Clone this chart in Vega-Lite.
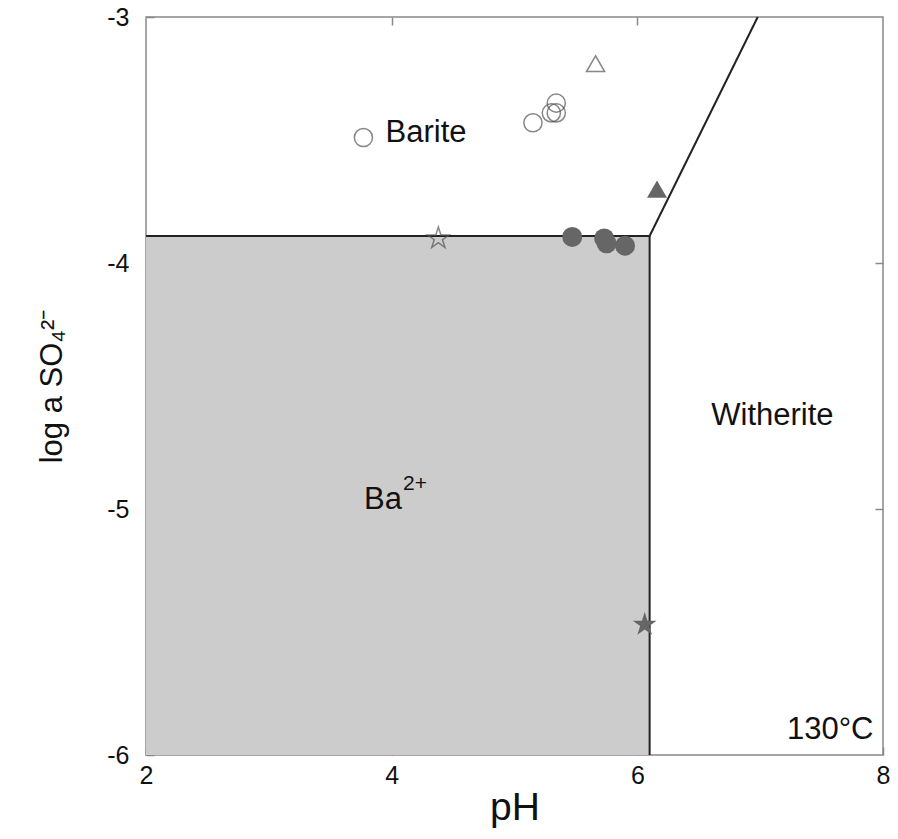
{
  "$schema": "https://vega.github.io/schema/vega-lite/v6.json",
  "width": 737,
  "height": 738,
  "autosize": {"type": "none"},
  "padding": {"left": 146, "top": 17, "right": 15, "bottom": 84},
  "background": "white",
  "config": {
    "view": {"stroke": "#888888", "strokeWidth": 1.5},
    "font": "Liberation Sans",
    "axis": {
      "grid": false,
      "domain": false,
      "ticks": true,
      "tickSize": -8,
      "tickWidth": 1.5,
      "tickColor": "#888888",
      "labelFont": "Liberation Sans",
      "labelFontSize": 25,
      "labelColor": "#111111",
      "titleFont": "Liberation Sans",
      "titleFontWeight": "normal",
      "titleColor": "#111111"
    }
  },
  "resolve": {"axis": {"x": "independent", "y": "independent"}},
  "datasets": {
    "region": [{"x1": 2, "x2": 6.1, "y1": -6, "y2": -3.89}],
    "bounds": [
      {"x1": 2, "y1": -3.89, "x2": 6.1, "y2": -3.89},
      {"x1": 6.1, "y1": -3.89, "x2": 6.1, "y2": -6},
      {"x1": 6.1, "y1": -3.89, "x2": 6.98, "y2": -3}
    ],
    "samples": [
      {"pH": 3.77, "logSO4": -3.49, "kind": "open circle"},
      {"pH": 5.15, "logSO4": -3.43, "kind": "open circle"},
      {"pH": 5.30, "logSO4": -3.39, "kind": "open circle"},
      {"pH": 5.34, "logSO4": -3.39, "kind": "open circle"},
      {"pH": 5.34, "logSO4": -3.35, "kind": "open circle"},
      {"pH": 5.66, "logSO4": -3.19, "kind": "open triangle"},
      {"pH": 4.38, "logSO4": -3.90, "kind": "open star"},
      {"pH": 5.47, "logSO4": -3.894, "kind": "filled circle"},
      {"pH": 5.73, "logSO4": -3.90, "kind": "filled circle"},
      {"pH": 5.75, "logSO4": -3.92, "kind": "filled circle"},
      {"pH": 5.90, "logSO4": -3.93, "kind": "filled circle"},
      {"pH": 6.16, "logSO4": -3.70, "kind": "filled triangle"},
      {"pH": 6.06, "logSO4": -5.47, "kind": "filled star"}
    ],
    "labels": [
      {"x": 4.28, "y": -3.47, "text": "Barite"},
      {"x": 7.1, "y": -4.62, "text": "Witherite"},
      {"x": 3.93, "y": -4.965, "text": "Ba"},
      {"x": 7.57, "y": -5.9, "text": "130°C"}
    ],
    "sups": [
      {"x": 4.19, "y": -4.9, "text": "2+"}
    ]
  },
  "layer": [
    {
      "data": {"name": "region"},
      "mark": {"type": "rect", "color": "#cccccc"},
      "encoding": {
        "x": {"field": "x1", "type": "quantitative", "scale": {"domain": [2, 8], "nice": false, "zero": false},
          "axis": {"orient": "bottom", "values": [2, 4, 6, 8], "labelExpr": "'' + datum.value", "labelFontSize": 25, "title": "pH", "titleFontSize": 39, "labelPadding": 16, "titlePadding": 0, "labelFlush": false}},
        "x2": {"field": "x2"},
        "y": {"field": "y1", "type": "quantitative", "scale": {"domain": [-6, -3], "nice": false, "zero": false},
          "axis": {"orient": "left", "values": [-6, -5, -4, -3], "labelExpr": "'' + datum.value", "labelFontSize": 25, "title": "log a SO₄²⁻", "titleFontSize": 31, "labelPadding": 25, "titlePadding": 38, "labelFlush": false}},
        "y2": {"field": "y2"}
      }
    },
    {
      "data": {"name": "bounds"},
      "mark": {"type": "rule", "color": "#222222", "strokeWidth": 2},
      "encoding": {
        "x": {"field": "x1", "type": "quantitative", "axis": {"orient": "top", "values": [4, 6], "labels": false, "title": null}},
        "x2": {"field": "x2"},
        "y": {"field": "y1", "type": "quantitative", "axis": {"orient": "right", "values": [-5, -4], "labels": false, "title": null}},
        "y2": {"field": "y2"}
      }
    },
    {
      "data": {"name": "samples"},
      "transform": [{"filter": "indexof(datum.kind, 'open') === 0"}],
      "mark": {"type": "point", "filled": false, "stroke": "#555555", "strokeWidth": 1.5, "size": 330},
      "encoding": {
        "x": {"field": "pH", "type": "quantitative", "axis": null},
        "y": {"field": "logSO4", "type": "quantitative", "axis": null},
        "shape": {"field": "kind", "type": "nominal", "legend": null,
          "scale": {"domain": ["open circle", "open triangle", "open star"], "range": ["circle", "triangle-up", "M0,-1.25L0.2806,-0.3863L1.1889,-0.3863L0.4541,0.1475L0.7348,1.0113L0,0.4775L-0.7348,1.0113L-0.4541,0.1475L-1.1889,-0.3863L-0.2806,-0.3863Z"]}}
      }
    },
    {
      "data": {"name": "samples"},
      "transform": [{"filter": "indexof(datum.kind, 'filled') === 0"}],
      "mark": {"type": "point", "filled": true, "color": "#666666", "opacity": 1, "size": 400},
      "encoding": {
        "x": {"field": "pH", "type": "quantitative", "axis": null},
        "y": {"field": "logSO4", "type": "quantitative", "axis": null},
        "shape": {"field": "kind", "type": "nominal", "legend": null,
          "scale": {"domain": ["filled circle", "filled triangle", "filled star"], "range": ["circle", "triangle-up", "M0,-1.15L0.2582,-0.3554L1.0938,-0.3554L0.4178,0.1357L0.676,0.9304L0,0.4393L-0.676,0.9304L-0.4178,0.1357L-1.0938,-0.3554L-0.2582,-0.3554Z"]}}
      }
    },
    {
      "data": {"name": "labels"},
      "mark": {"type": "text", "fontSize": 31, "color": "#111111", "font": "Liberation Sans"},
      "encoding": {
        "x": {"field": "x", "type": "quantitative", "axis": null},
        "y": {"field": "y", "type": "quantitative", "axis": null},
        "text": {"field": "text"}
      }
    },
    {
      "data": {"name": "sups"},
      "mark": {"type": "text", "fontSize": 21, "color": "#111111", "font": "Liberation Sans"},
      "encoding": {
        "x": {"field": "x", "type": "quantitative", "axis": null},
        "y": {"field": "y", "type": "quantitative", "axis": null},
        "text": {"field": "text"}
      }
    }
  ]
}
